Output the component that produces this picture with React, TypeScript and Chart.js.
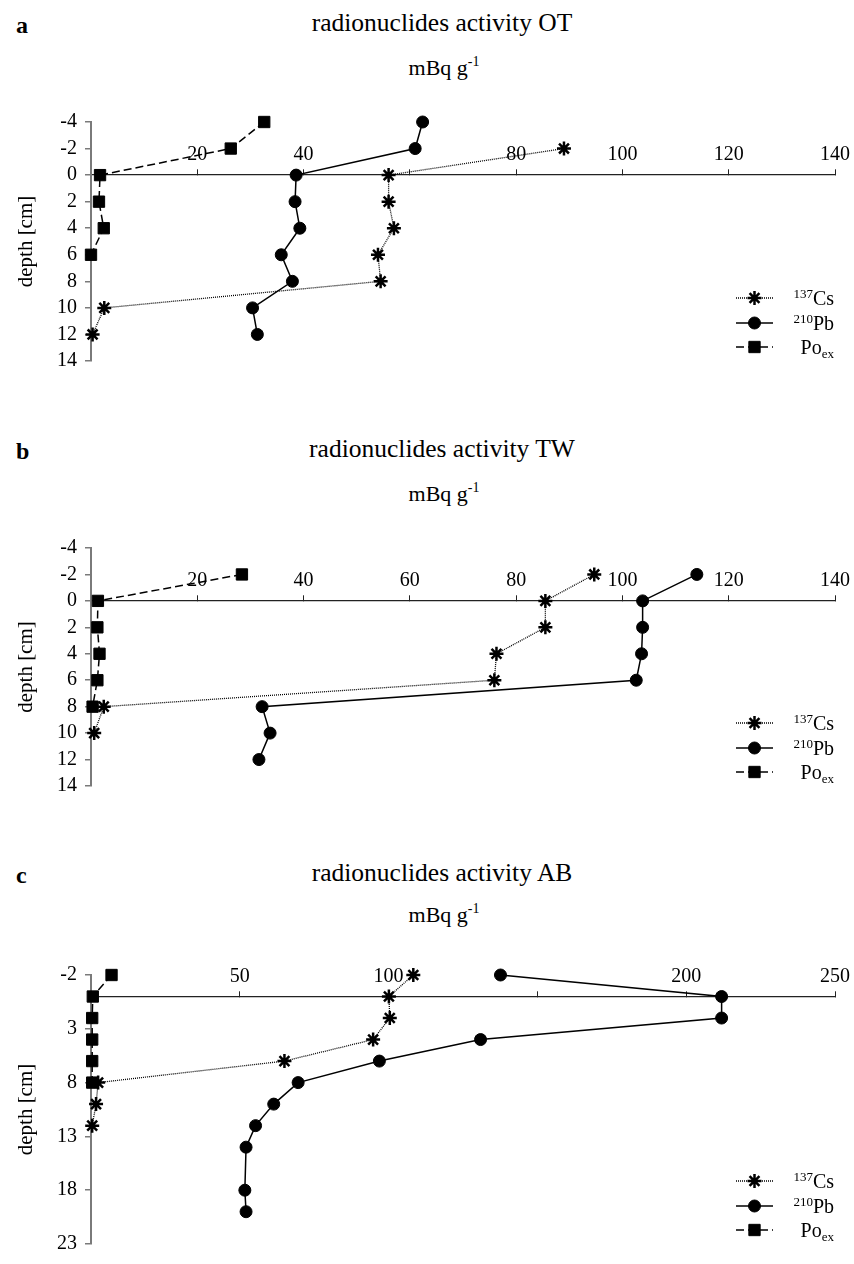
import React, { useEffect, useRef } from "react";
import { Chart, registerables } from "chart.js";
import { drawPoint } from "chart.js/helpers";

Chart.register(...registerables);

const FONT = "'Liberation Serif', 'Times New Roman', serif";

// ---------- data ----------
// panel a: OT
const otCsDepth = [-2, 0, 2, 4, 6, 8, 10, 12];
const otCs = [89, 56, 56, 57, 54, 54.5, 2.5, 0.3];
const otPbDepth = [-4, -2, 0, 2, 4, 6, 8, 10, 12];
const otPb = [62.4, 61, 38.6, 38.4, 39.3, 35.8, 37.9, 30.4, 31.3];
const otPoDepth = [-4, -2, 0, 2, 4, 6];
const otPo = [32.6, 26.3, 1.7, 1.5, 2.4, 0];

// panel b: TW
const twCsDepth = [-2, 0, 2, 4, 6, 8, 10];
const twCs = [94.7, 85.5, 85.5, 76.3, 75.9, 2.4, 0.6];
const twPbDepth = [-2, 0, 2, 4, 6, 8, 10, 12];
const twPb = [114, 103.8, 103.8, 103.6, 102.6, 32.2, 33.7, 31.6];
const twPoDepth = [-2, 0, 2, 4, 6, 8];
const twPo = [28.4, 1.3, 1.2, 1.6, 1.2, 0.3];

// panel c: AB
const abCsDepth = [-2, 0, 2, 4, 6, 8, 10, 12];
const abCs = [108.3, 100.1, 100.4, 94.8, 65, 2.4, 1.7, 0.4];
const abPbDepth = [-2, 0, 2, 4, 6, 8, 10, 12, 14, 18, 20];
const abPb = [137.6, 211.9, 211.9, 130.9, 96.9, 69.6, 61.4, 55.3, 52.1, 51.7, 52.1];
const abPoDepth = [-2, 0, 2, 4, 6, 8];
const abPo = [6.9, 0.6, 0.4, 0.4, 0.4, 0.4];

// ticks
const otXTicks = [0, 20, 40, 60, 80, 100, 120, 140];
const otXHidden = [0, 60];
const otYTicks = [-4, -2, 0, 2, 4, 6, 8, 10, 12, 14];
const twXTicks = [0, 20, 40, 60, 80, 100, 120, 140];
const twXHidden = [0];
const twYTicks = [-4, -2, 0, 2, 4, 6, 8, 10, 12, 14];
const abXTicks = [0, 50, 100, 150, 200, 250];
const abXHidden = [0, 150];
const abYTicks = [-2, 3, 8, 13, 18, 23];

// text
const panelLetters = ["a", "b", "c"];
const panelTitles = [
  "radionuclides activity OT",
  "radionuclides activity TW",
  "radionuclides activity AB",
];
const unitMain = "mBq g";
const unitSup = "-1";
const yAxisTitle = "depth [cm]";
const legendSup = ["137", "210", ""];
const legendMain = ["Cs", "Pb", "Po"];
const legendSub = ["", "", "ex"];

// ---------- legend plugin ----------
const legendPlugin = {
  id: "depthLegend",
  afterDatasetsDraw(chart: any) {
    const { ctx, chartArea } = chart;
    const rowOffsets = [-63, -38, -14];
    chart.data.datasets.forEach((ds: any, i: number) => {
      const y = chartArea.bottom + rowOffsets[i];
      const x0 = chartArea.right - 99;
      const x1 = chartArea.right - 62;
      ctx.save();
      ctx.strokeStyle = ds.borderColor;
      ctx.lineWidth = ds.borderWidth;
      ctx.setLineDash(ds.borderDash || []);
      ctx.beginPath();
      ctx.moveTo(x0, y);
      ctx.lineTo(x1, y);
      ctx.stroke();
      ctx.setLineDash([]);
      ctx.fillStyle = ds.pointBackgroundColor;
      ctx.strokeStyle = ds.pointBorderColor;
      ctx.lineWidth = ds.pointBorderWidth;
      drawPoint(
        ctx,
        { pointStyle: ds.pointStyle, radius: ds.pointRadius, borderWidth: ds.pointBorderWidth, rotation: 0 },
        (x0 + x1) / 2,
        y
      );
      const big = `20px ${FONT}`;
      const small = `13px ${FONT}`;
      ctx.font = small;
      const wSup = legendSup[i] ? ctx.measureText(legendSup[i]).width : 0;
      const wSub = legendSub[i] ? ctx.measureText(legendSub[i]).width : 0;
      ctx.font = big;
      const wMain = ctx.measureText(legendMain[i]).width;
      const right = chartArea.right - 1;
      let x = right - (wSup + wMain + wSub);
      const yb = y + 7;
      ctx.fillStyle = "#000";
      ctx.textAlign = "left";
      ctx.textBaseline = "alphabetic";
      if (legendSup[i]) {
        ctx.font = small;
        ctx.fillText(legendSup[i], x, yb - 7);
        x += wSup;
      }
      ctx.font = big;
      ctx.fillText(legendMain[i], x, yb);
      x += wMain;
      if (legendSub[i]) {
        ctx.font = small;
        ctx.fillText(legendSub[i], x, yb + 4);
      }
      ctx.restore();
    });
  },
};

type PanelProps = {
  top: number;
  height: number;
  padTop: number;
  padBottom: number;
  csDepth: number[];
  cs: number[];
  pbDepth: number[];
  pb: number[];
  poDepth: number[];
  po: number[];
  xTicks: number[];
  xHidden: number[];
  yTicks: number[];
};

function toPoints(xs: number[], ds: number[]) {
  return xs.map((v, i) => ({ x: v, y: ds[i] }));
}

function Panel(p: PanelProps) {
  const ref = useRef<HTMLCanvasElement>(null);
  useEffect(() => {
    const xMin = p.xTicks[0];
    const xMax = p.xTicks[p.xTicks.length - 1];
    const yMin = p.yTicks[0];
    const yMax = p.yTicks[p.yTicks.length - 1];
    const chart = new Chart(ref.current as HTMLCanvasElement, {
      type: "scatter",
      data: {
        datasets: [
          {
            label: legendSup[0] + legendMain[0],
            data: toPoints(p.cs, p.csDepth),
            showLine: true,
            borderColor: "#000",
            borderWidth: 1.3,
            borderDash: [1, 1],
            pointStyle: "star",
            pointRadius: 7,
            pointBorderWidth: 2.5,
            pointBorderColor: "#000",
            pointBackgroundColor: "#000",
            clip: false,
          } as any,
          {
            label: legendSup[1] + legendMain[1],
            data: toPoints(p.pb, p.pbDepth),
            showLine: true,
            borderColor: "#000",
            borderWidth: 1.5,
            pointStyle: "circle",
            pointRadius: 6,
            pointBorderWidth: 1,
            pointBorderColor: "#000",
            pointBackgroundColor: "#000",
            clip: false,
          } as any,
          {
            label: legendMain[2] + legendSub[2],
            data: toPoints(p.po, p.poDepth),
            showLine: true,
            borderColor: "#000",
            borderWidth: 1.5,
            borderDash: [8, 4],
            pointStyle: "rect",
            pointRadius: 8,
            pointBorderWidth: 1,
            pointBorderColor: "#000",
            pointBackgroundColor: "#000",
            clip: false,
          } as any,
        ],
      },
      options: {
        animation: false,
        responsive: false,
        devicePixelRatio: 1,
        layout: { padding: { top: p.padTop, bottom: p.padBottom, left: 0, right: 19 } },
        plugins: {
          legend: { display: false },
          tooltip: { enabled: false },
          title: { display: false },
        },
        scales: {
          x: {
            type: "linear",
            position: { y: 0 } as any,
            min: xMin,
            max: xMax,
            afterBuildTicks: (s: any) => {
              s.ticks = p.xTicks.map((v) => ({ value: v }));
            },
            ticks: {
              autoSkip: false,
              maxRotation: 0,
              padding: -26,
              color: "#000",
              font: { family: FONT, size: 20 },
              callback: (v: any) => (p.xHidden.includes(Number(v)) ? "" : String(v)),
            },
            grid: {
              drawOnChartArea: false,
              drawTicks: true,
              tickLength: -6,
              color: "#222",
              lineWidth: 1,
            },
            border: { display: true, color: "#222", width: 1.3 },
          },
          y: {
            type: "linear",
            position: "left",
            reverse: true,
            min: yMin,
            max: yMax,
            afterBuildTicks: (s: any) => {
              s.ticks = p.yTicks.map((v) => ({ value: v }));
            },
            afterFit: (s: any) => {
              s.width = 91;
            },
            ticks: {
              autoSkip: false,
              padding: 8,
              color: "#000",
              font: { family: FONT, size: 20 },
              callback: (v: any) => String(v),
            },
            grid: {
              drawOnChartArea: false,
              drawTicks: true,
              tickLength: 6,
              color: "#7a7a7a",
              lineWidth: 1.5,
            },
            border: { display: true, color: "#7a7a7a", width: 2 },
            title: {
              display: true,
              text: yAxisTitle,
              color: "#000",
              font: { family: FONT, size: 21 },
              padding: { top: 14, bottom: 0 },
            },
          },
        },
      } as any,
      plugins: [legendPlugin],
    });
    return () => chart.destroy();
  }, []);
  return (
    <canvas
      ref={ref}
      width={854}
      height={p.height}
      style={{ position: "absolute", left: 0, top: p.top, width: 854, height: p.height }}
    />
  );
}

function Heading({ idx, titleBase, unitBase }: { idx: number; titleBase: number; unitBase: number }) {
  const tSize = 25.5;
  const uSize = 22;
  const lSize = 24;
  return (
    <>
      <div
        style={{
          position: "absolute",
          left: 16,
          top: titleBase + 2 - lSize * 0.8375,
          fontFamily: FONT,
          fontWeight: "bold",
          fontSize: lSize,
          lineHeight: `${lSize}px`,
          whiteSpace: "nowrap",
        }}
      >
        {panelLetters[idx]}
      </div>
      <div
        style={{
          position: "absolute",
          left: 442 - 300,
          width: 600,
          textAlign: "center",
          top: titleBase - tSize * 0.8375,
          fontFamily: FONT,
          fontSize: tSize,
          lineHeight: `${tSize}px`,
          whiteSpace: "nowrap",
        }}
      >
        {panelTitles[idx]}
      </div>
      <div
        style={{
          position: "absolute",
          left: 444 - 300,
          width: 600,
          textAlign: "center",
          top: unitBase - uSize * 0.8375,
          fontFamily: FONT,
          fontSize: uSize,
          lineHeight: `${uSize}px`,
          whiteSpace: "nowrap",
        }}
      >
        {unitMain}
        <span style={{ fontSize: 14, position: "relative", top: -9 }}>{unitSup}</span>
      </div>
    </>
  );
}

export default function App() {
  return (
    <div
      style={{
        position: "fixed",
        left: 0,
        top: 0,
        width: 854,
        height: 1264,
        overflow: "hidden",
        background: "#fff",
      }}
    >
      <Heading idx={0} titleBase={31} unitBase={75} />
      <Heading idx={1} titleBase={457} unitBase={501} />
      <Heading idx={2} titleBase={881} unitBase={922} />
      <Panel
        top={90}
        height={300}
        padTop={32}
        padBottom={29}
        csDepth={otCsDepth}
        cs={otCs}
        pbDepth={otPbDepth}
        pb={otPb}
        poDepth={otPoDepth}
        po={otPo}
        xTicks={otXTicks}
        xHidden={otXHidden}
        yTicks={otYTicks}
      />
      <Panel
        top={516}
        height={300}
        padTop={32}
        padBottom={30}
        csDepth={twCsDepth}
        cs={twCs}
        pbDepth={twPbDepth}
        pb={twPb}
        poDepth={twPoDepth}
        po={twPo}
        xTicks={twXTicks}
        xHidden={twXHidden}
        yTicks={twYTicks}
      />
      <Panel
        top={955}
        height={309}
        padTop={20}
        padBottom={12}
        csDepth={abCsDepth}
        cs={abCs}
        pbDepth={abPbDepth}
        pb={abPb}
        poDepth={abPoDepth}
        po={abPo}
        xTicks={abXTicks}
        xHidden={abXHidden}
        yTicks={abYTicks}
      />
    </div>
  );
}
